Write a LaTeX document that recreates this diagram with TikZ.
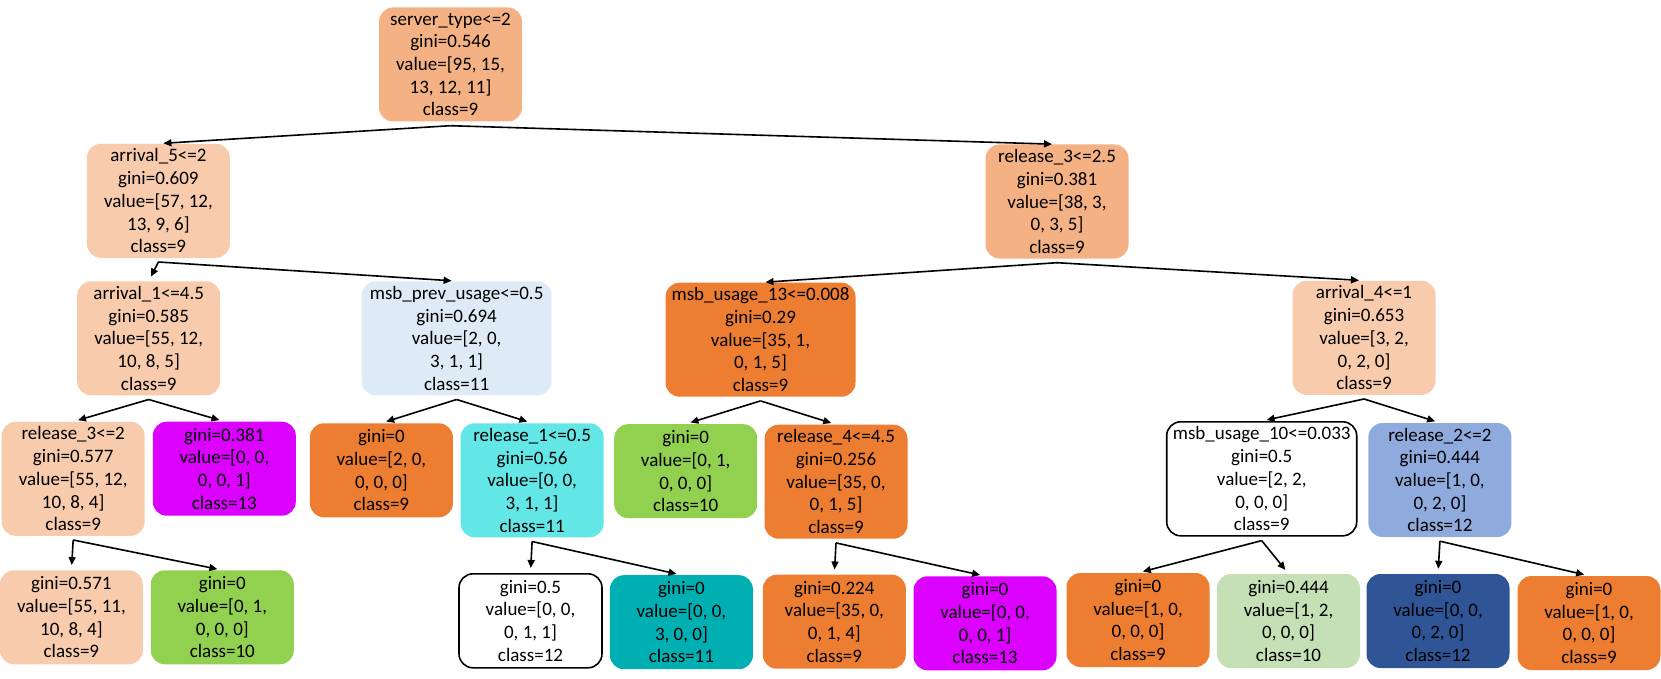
\documentclass[tikz,border=0pt]{standalone}
\usepackage{fontspec}
\setmainfont{Carlito}
\usetikzlibrary{arrows.meta}
\definecolor{oL}{HTML}{F4B183}
\definecolor{oLL}{HTML}{F8CBAD}
\definecolor{oD}{HTML}{ED7D31}
\definecolor{bL}{HTML}{DEEBF7}
\definecolor{mag}{HTML}{DC00FF}
\definecolor{cy}{HTML}{63E6E6}
\definecolor{tl}{HTML}{00AFB2}
\definecolor{gr}{HTML}{92D050}
\definecolor{grL}{HTML}{C5E0B4}
\definecolor{bM}{HTML}{8FAADC}
\definecolor{nv}{HTML}{2F5597}
\begin{document}
\begin{tikzpicture}[x=1pt,y=-1pt,
 box/.style={rounded corners=14pt, align=center, inner sep=0pt,
   font=\fontsize{19}{22.7}\selectfont, minimum width=143pt},
 tall/.style={box, minimum height=114pt},
 short/.style={box, minimum height=94pt},
 wide/.style={minimum width=190pt},
 wbox/.style={draw=black, line width=1.6pt, fill=white},
 conn/.style={line width=1.6pt, -{Triangle[length=8pt,width=7pt]}, shorten >=5pt}]
\useasboundingbox (0,0) rectangle (1661,679);

% row 1
\node[tall, fill=oL] (root) at (450.5,64.5) {server\_type<=2\\gini=0.546\\value=[95, 15,\\13, 12, 11]\\class=9};
% row 2
\node[tall, fill=oLL] (a5) at (158.4,200.8) {arrival\_5<=2\\gini=0.609\\value=[57, 12,\\13, 9, 6]\\class=9};
\node[tall, fill=oL] (r3a) at (1057,201.5) {release\_3<=2.5\\gini=0.381\\value=[38, 3,\\0, 3, 5]\\class=9};
% row 3
\node[tall, fill=oLL] (a1) at (148.7,338.3) {arrival\_1<=4.5\\gini=0.585\\value=[55, 12,\\10, 8, 5]\\class=9};
\node[tall, wide, fill=bL] (mp) at (456.6,338.3) {msb\_prev\_usage<=0.5\\gini=0.694\\value=[2, 0,\\3, 1, 1]\\class=11};
\node[tall, wide, fill=oD] (m13) at (760.5,339.7) {msb\_usage\_13<=0.008\\gini=0.29\\value=[35, 1,\\0, 1, 5]\\class=9};
\node[tall, fill=oLL] (a4) at (1364,337.8) {arrival\_4<=1\\gini=0.653\\value=[3, 2,\\0, 2, 0]\\class=9};
% row 4
\node[tall, fill=oLL] (r3b) at (73.2,478.8) {release\_3<=2\\gini=0.577\\value=[55, 12,\\10, 8, 4]\\class=9};
\node[short, fill=mag] (l1) at (224.3,468.7) {gini=0.381\\value=[0, 0,\\0, 0, 1]\\class=13};
\node[short, fill=oD] (l2) at (381.4,470.3) {gini=0\\value=[2, 0,\\0, 0, 0]\\class=9};
\node[tall, fill=cy] (r1) at (532.1,480.3) {release\_1<=0.5\\gini=0.56\\value=[0, 0,\\3, 1, 1]\\class=11};
\node[short, fill=gr] (l3) at (685.7,471.2) {gini=0\\value=[0, 1,\\0, 0, 0]\\class=10};
\node[tall, fill=oD] (r4) at (836,481.7) {release\_4<=4.5\\gini=0.256\\value=[35, 0,\\0, 1, 5]\\class=9};
\node[tall, wide, wbox] (m10) at (1261.7,478.8) {msb\_usage\_10<=0.033\\gini=0.5\\value=[2, 2,\\0, 0, 0]\\class=9};
\node[tall, fill=bM] (r2) at (1439.9,480) {release\_2<=2\\gini=0.444\\value=[1, 0,\\0, 2, 0]\\class=12};
% row 5
\node[short, fill=oLL] (l4) at (71.4,617.3) {gini=0.571\\value=[55, 11,\\10, 8, 4]\\class=9};
\node[short, fill=gr] (l5) at (222.3,617.3) {gini=0\\value=[0, 1,\\0, 0, 0]\\class=10};
\node[short, wbox] (l6) at (530.5,620.8) {gini=0.5\\value=[0, 0,\\0, 1, 1]\\class=12};
\node[short, fill=tl] (l7) at (681.4,622.2) {gini=0\\value=[0, 0,\\3, 0, 0]\\class=11};
\node[short, fill=oD] (l8) at (834.3,621.7) {gini=0.224\\value=[35, 0,\\0, 1, 4]\\class=9};
\node[short, fill=mag] (l9) at (985,623.3) {gini=0\\value=[0, 0,\\0, 0, 1]\\class=13};
\node[short, fill=oD] (l10) at (1138,620) {gini=0\\value=[1, 0,\\0, 0, 0]\\class=9};
\node[short, fill=grL] (l11) at (1288.5,621) {gini=0.444\\value=[1, 2,\\0, 0, 0]\\class=10};
\node[short, fill=nv] (l12) at (1438,621) {gini=0\\value=[0, 0,\\0, 2, 0]\\class=12};
\node[short, fill=oD] (l13) at (1589,623) {gini=0\\value=[1, 0,\\0, 0, 0]\\class=9};

% fork points
\foreach \p in {root,a5,r3a,a1,mp,m13,a4,r3b,r1,r4,m10,r2}
  \coordinate (\p F) at ([yshift=-4pt]\p.south);

% connectors
\draw[conn] (rootF) -- (a5.north);
\draw[conn] (rootF) -- (r3a.north);
\draw[conn] (a5F) -- (a1.north);
\draw[conn] (a5F) -- (mp.north);
\draw[conn] (r3aF) -- (m13.north);
\draw[conn] (r3aF) -- (a4.north);
\draw[conn] (a1F) -- (r3b.north);
\draw[conn] (a1F) -- (l1.north);
\draw[conn] (mpF) -- (l2.north);
\draw[conn] (mpF) -- (r1.north);
\draw[conn] (m13F) -- (l3.north);
\draw[conn] (m13F) -- (r4.north);
\draw[conn] (a4F) -- (m10.north);
\draw[conn] (a4F) -- (r2.north);
\draw[conn] (r3bF) -- (l4.north);
\draw[conn] (r3bF) -- (l5.north);
\draw[conn] (r1F) -- (l6.north);
\draw[conn] (r1F) -- (l7.north);
\draw[conn] (r4F) -- (l8.north);
\draw[conn] (r4F) -- (l9.north);
\draw[conn] (m10F) -- (l10.north);
\draw[conn] (m10F) -- (l11.north);
\draw[conn] (r2F) -- (l12.north);
\draw[conn] (r2F) -- (l13.north);
\end{tikzpicture}
\end{document}
